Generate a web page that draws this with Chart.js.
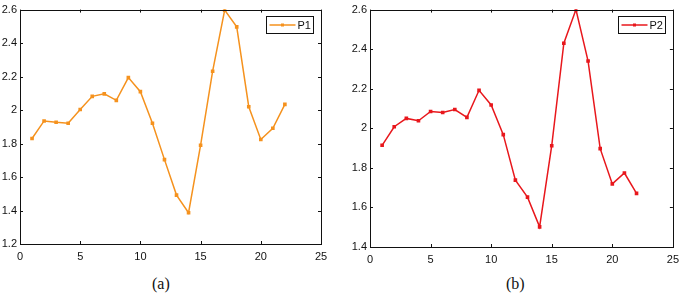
<!DOCTYPE html>
<html>
<head>
<meta charset="utf-8">
<script src="https://cdn.jsdelivr.net/npm/chart.js@4"></script>
<style>
  body { margin: 0; background: #fff; width: 685px; height: 294px; position: relative; overflow: hidden; }
  .box { position: absolute; top: 0; height: 270px; }
  .cap { position: absolute; top: 275px; font-family: "Liberation Serif", "DejaVu Serif", serif; font-size: 16px; color: #111; }
</style>
</head>
<body>
<div class="box" style="left:0;width:340px"><canvas id="chartA"></canvas></div>
<div class="box" style="left:340px;width:345px"><canvas id="chartB"></canvas></div>
<div class="cap" style="left:152px">(a)</div>
<div class="cap" style="left:506px">(b)</div>
<script>
// data
const xs = [1, 2, 3, 4, 5, 6, 7, 8, 9, 10, 11, 12, 13, 14, 15, 16, 17, 18, 19, 20, 21, 22];
const p1 = [1.83, 1.935, 1.927, 1.921, 2.003, 2.082, 2.097, 2.058, 2.194, 2.11, 1.921, 1.704, 1.492, 1.387, 1.79, 2.232, 2.597, 2.497, 2.02, 1.824, 1.891, 2.034];
const p2 = [1.914, 2.008, 2.05, 2.038, 2.085, 2.08, 2.095, 2.055, 2.192, 2.118, 1.968, 1.738, 1.652, 1.502, 1.912, 2.43, 2.6, 2.34, 1.897, 1.719, 1.774, 1.671];
const xTicks = [0, 5, 10, 15, 20, 25];
const yTicksA = [1.2, 1.4, 1.6, 1.8, 2, 2.2, 2.4, 2.6];
const yTicksB = [1.4, 1.6, 1.8, 2, 2.2, 2.4, 2.6];

const tickFont = { family: "Liberation Sans, Arial, sans-serif", size: 11 };

// frame around the plot area, inward ticks on all four sides, boxed legend
const framePlugin = {
  id: "frame",
  afterDatasetsDraw(chart) {
    const ctx = chart.ctx;
    const a = chart.chartArea;
    const sx = chart.scales.x, sy = chart.scales.y;
    ctx.save();
    ctx.strokeStyle = "#111";
    ctx.lineWidth = 1;
    ctx.strokeRect(Math.round(a.left) + 0.5, Math.round(a.top) + 0.5, Math.round(a.right - a.left), Math.round(a.bottom - a.top));
    const len = 3;
    ctx.beginPath();
    sx.ticks.forEach(t => {
      const px = Math.round(sx.getPixelForValue(t.value)) + 0.5;
      ctx.moveTo(px, a.bottom); ctx.lineTo(px, a.bottom - len);
      ctx.moveTo(px, a.top); ctx.lineTo(px, a.top + len);
    });
    sy.ticks.forEach(t => {
      const py = Math.round(sy.getPixelForValue(t.value)) + 0.5;
      ctx.moveTo(a.left, py); ctx.lineTo(a.left + len, py);
      ctx.moveTo(a.right, py); ctx.lineTo(a.right - len, py);
    });
    ctx.stroke();

    // legend
    const ds = chart.data.datasets[0];
    const w = 47, h = 17;
    const lx = Math.round(a.right - w - 8) + 0.5, ly = Math.round(a.top + 6) + 0.5;
    ctx.fillStyle = "#fff";
    ctx.fillRect(lx, ly, w, h);
    ctx.strokeStyle = "#111";
    ctx.strokeRect(lx, ly, w, h);
    ctx.strokeStyle = ds.borderColor;
    ctx.lineWidth = 1.5;
    ctx.beginPath();
    ctx.moveTo(lx + 3, ly + h / 2); ctx.lineTo(lx + 29, ly + h / 2);
    ctx.stroke();
    ctx.fillStyle = ds.borderColor;
    ctx.fillRect(lx + 14.5, ly + h / 2 - 1.5, 3, 3);
    ctx.fillStyle = "#111";
    ctx.font = "11px Liberation Sans, Arial, sans-serif";
    ctx.textBaseline = "middle";
    ctx.fillText(ds.label, lx + 31, ly + h / 2 + 0.5);
    ctx.restore();
  }
};

// labels like 2, 2.2, 1.4 (no trailing zero)
const fmt = v => String(Number(Number(v).toFixed(2)));

function makeChart(id, label, values, color, yTicks, yWidth, xHeight, pad) {
  const ctx = document.getElementById(id).getContext("2d");
  return new Chart(ctx, {
    type: "line",
    data: {
      datasets: [
        {
          label: label,
          data: xs.map((x, i) => ({ x: x, y: values[i] })),
          borderColor: color,
          backgroundColor: color,
          borderWidth: 1.5,
          pointRadius: 1.5,
          pointStyle: "rect",
          tension: 0,
          fill: false,
        },
      ],
    },
    options: {
      responsive: true,
      maintainAspectRatio: false,
      animation: false,
      layout: { padding: pad },
      scales: {
        x: {
          type: "linear",
          min: xTicks[0],
          max: xTicks[xTicks.length - 1],
          afterBuildTicks: s => { s.ticks = xTicks.map(v => ({ value: v })); },
          afterFit: s => { s.height = xHeight; },
          grid: { display: false, drawTicks: false },
          border: { display: false },
          ticks: { color: "#111", font: tickFont, padding: 6, maxRotation: 0, callback: fmt },
        },
        y: {
          type: "linear",
          min: yTicks[0],
          max: yTicks[yTicks.length - 1],
          afterBuildTicks: s => { s.ticks = yTicks.map(v => ({ value: v })); },
          afterFit: s => { s.width = yWidth; },
          grid: { display: false, drawTicks: false },
          border: { display: false },
          ticks: { color: "#111", font: tickFont, padding: 3, callback: fmt },
        },
      },
      plugins: {
        legend: { display: false },
        tooltip: { enabled: false },
      },
    },
    plugins: [framePlugin],
  });
}

makeChart("chartA", "P1", p1, "#f5921e", yTicksA, 20, 26, { top: 8, right: 19, left: 0, bottom: 0 });
makeChart("chartB", "P2", p2, "#e8171c", yTicksB, 30, 23, { top: 7, right: 10, left: 0, bottom: 0 });
</script>
</body>
</html>
